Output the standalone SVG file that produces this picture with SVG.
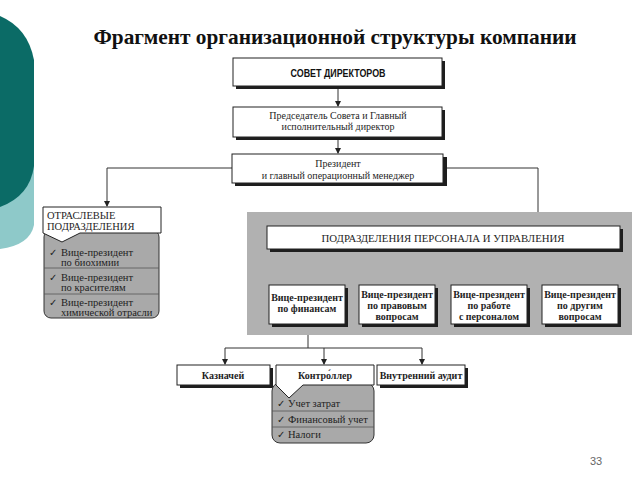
<svg xmlns="http://www.w3.org/2000/svg" width="640" height="480" viewBox="0 0 640 480">
<defs>
<marker id="ar" markerWidth="6" markerHeight="6" refX="5" refY="3" orient="auto" markerUnits="userSpaceOnUse">
<path d="M0,0 L6,3 L0,6 Z" fill="#222"/>
</marker>
</defs>
<style>
.box{fill:#fff;stroke:#222;stroke-width:1}
.sh{fill:#1e1e1e}
.t{font-family:'Liberation Serif','DejaVu Serif',serif;font-size:10px;fill:#1e1e1e;text-anchor:middle}
.tl{font-family:'Liberation Serif','DejaVu Serif',serif;font-size:10.5px;fill:#1e1e1e}
.title{font-family:'Liberation Serif','DejaVu Serif',serif;font-size:21px;font-weight:bold;fill:#111;text-anchor:middle}
.b{font-weight:bold}
.ln{fill:none;stroke:#333;stroke-width:1}
.ar{marker-end:url(#ar)}
.gray{fill:#a9a9a9;stroke:#333;stroke-width:1}
.dv{stroke:#555;stroke-width:0.8}
.ck{font-family:'DejaVu Sans',sans-serif;font-size:10px;fill:#1e1e1e}
</style>
<rect width="640" height="480" fill="#fff"/>
<!-- left decoration -->
<path d="M0,140 L34,140 L34,225 Q30,245 0,249 Z" fill="#8ec9c9"/>
<path d="M0,16 Q28,28 34,60 L34,166 Q30,196 0,207 Z" fill="#0b6b66"/>
<text class="title" x="335" y="44" textLength="483" lengthAdjust="spacingAndGlyphs">Фрагмент организационной структуры компании</text>

<g id="connectors">
<path class="ln ar" d="M338,87 V106"/>
<path class="ln ar" d="M338,138 V153"/>
<path class="ln ar" d="M232,168 H107 V206"/>
<path class="ln ar" d="M444,168 H538 V225"/>
<path class="ln" d="M443,250 V268 M308,268 H580"/>
<path class="ln ar" d="M308,268 V284"/>
<path class="ln ar" d="M398,268 V284"/>
<path class="ln ar" d="M490,268 V284"/>
<path class="ln ar" d="M580,268 V284"/>
<path class="ln" d="M308,325 V348 M225,348 H422"/>
<path class="ln ar" d="M225,348 V364"/>
<path class="ln ar" d="M324,348 V364"/>
<path class="ln ar" d="M422,348 V364"/>
</g>

<g id="board">
<rect class="sh" x="236" y="61" width="209" height="28"/>
<rect class="box" x="233" y="58" width="209" height="28"/>
<text x="338" y="77" font-family="'Liberation Sans', sans-serif" font-size="10" font-weight="bold" text-anchor="middle" fill="#111" textLength="95" lengthAdjust="spacingAndGlyphs">СОВЕТ ДИРЕКТОРОВ</text>
</g>

<g id="chairman">
<rect class="sh" x="236" y="110" width="209" height="30"/>
<rect class="box" x="233" y="107" width="209" height="30"/>
<text class="t" x="338" y="119">Председатель Совета и Главный</text>
<text class="t" x="338" y="130">исполнительный директор</text>
</g>

<g id="president">
<rect class="sh" x="235" y="157" width="212" height="29"/>
<rect class="box" x="232" y="154" width="211" height="29"/>
<text class="t" x="338" y="167">Президент</text>
<text class="t" x="338" y="179">и главный операционный менеджер</text>
</g>

<g id="industry">
<rect class="gray" x="44" y="230" width="115" height="88" rx="7"/>
<line class="dv" x1="44" y1="268" x2="159" y2="268"/>
<line class="dv" x1="44" y1="294" x2="159" y2="294"/>
<path d="M43,207 H161 V233 H80 L62,242 L43,233 Z" fill="#fff" stroke="#222" stroke-width="1"/>
<text class="tl" x="47" y="219" font-size="11.5">ОТРАСЛЕВЫЕ</text>
<text class="tl" x="47" y="230" font-size="11.5">ПОДРАЗДЕЛЕНИЯ</text>
<text class="ck" x="49" y="256">✓</text>
<text class="tl" x="61" y="256">Вице-президент</text>
<text class="tl" x="61" y="266">по биохимии</text>
<text class="ck" x="49" y="281">✓</text>
<text class="tl" x="61" y="281">Вице-президент</text>
<text class="tl" x="61" y="291">по красителям</text>
<text class="ck" x="49" y="306">✓</text>
<text class="tl" x="61" y="306">Вице-президент</text>
<text class="tl" x="61" y="316">химической отрасли</text>
</g>

<g id="staff">
<rect x="247" y="212" width="385" height="123" fill="#b1b1b1"/>
<rect class="sh" x="270" y="229" width="353" height="23"/>
<rect class="box" x="267" y="226" width="353" height="23"/>
<text class="t" x="443" y="242" textLength="243" lengthAdjust="spacingAndGlyphs">ПОДРАЗДЕЛЕНИЯ ПЕРСОНАЛА И УПРАВЛЕНИЯ</text>
</g>

<g id="vp-finance">
<rect class="sh" x="272" y="288" width="76" height="39"/>
<rect class="box" x="269" y="285" width="76" height="39"/>
<text class="t b" x="307" y="301">Вице-президент</text>
<text class="t b" x="307" y="312">по финансам</text>
</g>
<g id="vp-legal">
<rect class="sh" x="362" y="288" width="76" height="39"/>
<rect class="box" x="359" y="285" width="76" height="39"/>
<text class="t b" x="397" y="298">Вице-президент</text>
<text class="t b" x="397" y="309">по правовым</text>
<text class="t b" x="397" y="320">вопросам</text>
</g>
<g id="vp-hr">
<rect class="sh" x="454" y="288" width="76" height="39"/>
<rect class="box" x="451" y="285" width="76" height="39"/>
<text class="t b" x="489" y="298">Вице-президент</text>
<text class="t b" x="489" y="309">по работе</text>
<text class="t b" x="489" y="320">с персоналом</text>
</g>
<g id="vp-other">
<rect class="sh" x="545" y="288" width="76" height="39"/>
<rect class="box" x="542" y="285" width="76" height="39"/>
<text class="t b" x="580" y="298">Вице-президент</text>
<text class="t b" x="580" y="309">по другим</text>
<text class="t b" x="580" y="320">вопросам</text>
</g>

<g id="treasurer">
<rect class="sh" x="180" y="368" width="93" height="20"/>
<rect class="box" x="177" y="365" width="93" height="20"/>
<text class="t b" x="223" y="379">Казначей</text>
</g>

<g id="controller">
<rect class="gray" x="272" y="383" width="102" height="60" rx="8"/>
<line class="dv" x1="272" y1="411" x2="374" y2="411"/>
<line class="dv" x1="272" y1="427" x2="374" y2="427"/>
<path d="M276,365 H374 V385 H303 L289,398 L276,385 Z" fill="#fff" stroke="#222" stroke-width="1"/>
<text class="t b" x="325" y="379">Контро́ллер</text>
<text class="ck" x="277" y="407">✓</text>
<text class="tl" x="288" y="407">Учет затрат</text>
<text class="ck" x="277" y="423">✓</text>
<text class="tl" x="288" y="423">Финансовый учет</text>
<text class="ck" x="277" y="438">✓</text>
<text class="tl" x="288" y="438">Налоги</text>
</g>

<g id="audit">
<rect class="sh" x="380" y="368" width="88" height="20"/>
<rect class="box" x="377" y="365" width="88" height="20"/>
<text class="t b" x="421" y="379">Внутренний аудит</text>
</g>

<text x="596" y="465" text-anchor="middle" font-family="'Liberation Sans', sans-serif" font-size="11" fill="#666">33</text>
</svg>
